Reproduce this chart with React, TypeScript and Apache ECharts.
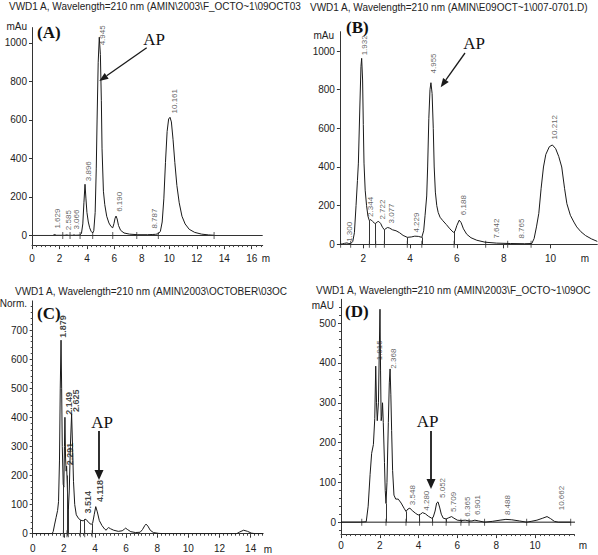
import React, { useEffect, useRef } from "react";
import * as echarts from "echarts";

// ---------------- texts ----------------
const titles = [
  "VWD1 A, Wavelength=210 nm (AMIN\\2003\\F_OCTO~1\\09OCT03",
  "VWD1 A, Wavelength=210 nm (AMIN\\E09OCT~1\\007-0701.D)",
  "VWD1 A, Wavelength=210 nm (AMIN\\2003\\OCTOBER\\03OC",
  "VWD1 A, Wavelength=210 nm (AMIN\\2003\\F_OCTO~1\\09OC",
];
const unitNames = ["mAu", "mAu", "Norm.", "mAU"];
const panelLetters = ["(A)", "(B)", "(C)", "(D)"];
const annotation = "AP";
const timeUnit = "m";

// ---------------- tick labels ----------------
const xTicksA = [0, 2, 4, 6, 8, 10, 12, 14, 16];
const yTicksA = [0, 200, 400, 600, 800, 1000];
const xTicksB = [2, 4, 6, 8, 10];
const yTicksB = [0, 200, 400, 600, 800, 1000];
const xTicksC = [0, 2, 4, 6, 8, 10, 12, 14];
const yTicksC = [0, 100, 200, 300, 400, 500, 600, 700];
const xTicksD = [0, 2, 4, 6, 8, 10];
const yTicksD = [0, 100, 200, 300, 400, 500];

// ---------------- chromatogram traces [time (min), signal] ----------------
const traceA = [
  [0, 0], [1.5, 0], [1.6, 3], [1.67, 5], [1.75, 1], [2.4, 1], [2.53, 3], [2.65, 1], [2.95, 1], [3.06, 3],
  [3.18, 1], [3.45, 2], [3.6, 10], [3.7, 60], [3.78, 170], [3.86, 266], [3.93, 190], [4.0, 120], [4.1, 70],
  [4.2, 40], [4.3, 22], [4.42, 13], [4.5, 25], [4.6, 120], [4.68, 350], [4.74, 600], [4.82, 900], [4.9, 1030],
  [4.98, 940], [5.05, 700], [5.1, 450], [5.2, 230], [5.3, 160], [5.44, 100], [5.6, 65], [5.75, 47], [5.88, 40],
  [5.97, 62], [6.05, 90], [6.12, 101], [6.2, 86], [6.3, 52], [6.45, 27], [6.7, 13], [7.1, 7], [7.7, 4],
  [8.4, 4], [8.75, 5], [9.0, 6], [9.2, 9], [9.35, 22], [9.48, 70], [9.6, 190], [9.72, 380], [9.84, 540],
  [9.95, 605], [10.05, 614], [10.15, 590], [10.27, 500], [10.4, 380], [10.55, 260], [10.72, 170], [10.92, 100],
  [11.15, 60], [11.45, 32], [11.85, 16], [12.35, 7], [12.85, 3], [13.26, 1],
];
const traceB = [
  [1.0, 0], [1.1, 2], [1.2, 5], [1.3, 7], [1.38, 4], [1.46, 3], [1.55, 15], [1.62, 60], [1.69, 200], [1.75, 330],
  [1.79, 420], [1.85, 700], [1.9, 920], [1.93, 962], [1.97, 850], [2.0, 620], [2.03, 420], [2.08, 280],
  [2.14, 200], [2.2, 145], [2.26, 122], [2.32, 128], [2.4, 118], [2.47, 110], [2.53, 108], [2.6, 116],
  [2.66, 118], [2.74, 108], [2.82, 88], [2.9, 75], [2.97, 82], [3.04, 87], [3.12, 84], [3.25, 75], [3.4, 70],
  [3.55, 60], [3.7, 46], [3.88, 36], [4.05, 38], [4.2, 42], [4.35, 41], [4.5, 36], [4.58, 70], [4.64, 150],
  [4.71, 250], [4.75, 400], [4.8, 650], [4.85, 800], [4.89, 836], [4.94, 780], [4.99, 600], [5.03, 400],
  [5.08, 270], [5.14, 200], [5.2, 165], [5.28, 140], [5.4, 122], [5.55, 102], [5.7, 80], [5.85, 62],
  [5.92, 68], [6.0, 98], [6.1, 125], [6.18, 112], [6.28, 80], [6.42, 52], [6.6, 34], [6.85, 21], [7.2, 11],
  [7.7, 6], [8.3, 4], [8.9, 3], [9.2, 4], [9.3, 30], [9.4, 90], [9.5, 160], [9.6, 290], [9.7, 400], [9.8, 465],
  [9.95, 505], [10.08, 514], [10.22, 495], [10.35, 455], [10.48, 400], [10.6, 290], [10.7, 210], [10.85, 150],
  [11.0, 115], [11.12, 90], [11.3, 65], [11.5, 45], [11.75, 28], [12.0, 15],
];
const traceC = [
  [0, 0], [1.25, 0], [1.32, 8], [1.4, 30], [1.5, 55], [1.6, 80], [1.66, 110], [1.72, 250], [1.77, 500],
  [1.82, 665], [1.86, 500], [1.9, 300], [1.96, 170], [2.0, 160], [2.04, 300], [2.07, 400], [2.11, 260],
  [2.15, 215], [2.18, 232], [2.22, 170], [2.26, 100], [2.29, 82], [2.35, 150], [2.42, 300], [2.5, 412],
  [2.56, 300], [2.62, 180], [2.7, 100], [2.8, 65], [2.95, 52], [3.1, 46], [3.25, 44], [3.36, 50], [3.45, 48],
  [3.6, 38], [3.75, 32], [3.85, 36], [3.95, 65], [4.05, 93], [4.15, 75], [4.28, 45], [4.45, 28], [4.62, 16],
  [4.72, 12], [4.8, 18], [4.88, 21], [5.0, 17], [5.2, 12], [5.5, 8], [5.75, 10], [5.9, 16], [5.97, 19],
  [6.1, 14], [6.3, 7], [6.6, 4], [6.9, 5], [7.05, 14], [7.2, 28], [7.28, 33], [7.4, 26], [7.55, 12], [7.75, 4],
  [8.1, 1], [8.6, 0], [13.1, 0], [13.3, 6], [13.55, 12], [13.8, 8], [14.05, 2], [14.3, 0], [14.8, 0],
];
const traceD = [
  [0, 0], [1.0, 0], [1.3, 1], [1.4, 40], [1.5, 120], [1.58, 173], [1.67, 195], [1.74, 260], [1.79, 392],
  [1.83, 300], [1.87, 255], [1.93, 300], [1.97, 420], [2.01, 535], [2.04, 380], [2.07, 255], [2.1, 265],
  [2.14, 300], [2.18, 250], [2.24, 150], [2.28, 80], [2.32, 47], [2.37, 100], [2.44, 250], [2.49, 350],
  [2.53, 385], [2.57, 320], [2.61, 230], [2.66, 130], [2.73, 68], [2.82, 58], [2.95, 58], [3.1, 48],
  [3.25, 35], [3.35, 27], [3.45, 33], [3.55, 35], [3.7, 28], [3.85, 22], [3.98, 18], [4.1, 20], [4.2, 24],
  [4.35, 21], [4.5, 15], [4.67, 10], [4.75, 12], [4.85, 28], [4.93, 48], [5.0, 51], [5.08, 38], [5.17, 20],
  [5.27, 10], [5.42, 8], [5.55, 11], [5.7, 14], [5.82, 10], [6.0, 5], [6.18, 4], [6.4, 5], [6.6, 3], [6.75, 3],
  [6.9, 5], [7.1, 3], [7.4, 0], [7.8, 2], [8.2, 5], [8.5, 7], [8.8, 6], [9.2, 3], [9.57, 0], [9.8, 2],
  [10.1, 5], [10.4, 10], [10.62, 14], [10.8, 9], [11.0, 2], [11.2, 0], [11.84, 0],
];
const baselineD = [[0, 0], [12.55, 0]];

// ---------------- peak labels [x, y, retention time] ----------------
const peaksA = [
  [1.84, 28, "1.629"], [2.69, 20, "2.585"], [3.25, 23, "3.066"], [4.1, 274, "3.896"],
  [5.12, 980, "4.945"], [6.36, 115, "6.190"], [8.89, 28, "8.787"], [10.36, 626, "10.161"],
];
const peaksB = [
  [1.43, 5, "1.300"], [2.07, 970, "1.932"], [2.32, 134, "2.344"], [2.81, 120, "2.722"],
  [3.21, 100, "3.077"], [4.28, 53, "4.229"], [4.99, 876, "4.955"], [6.3, 143, "6.188"],
  [7.7, 22, "7.642"], [8.77, 22, "8.765"], [10.19, 535, "10.212"],
];
const peaksC = [
  [1.97, 668, "1.879"], [2.35, 404, "2.149"], [2.4, 230, "2.291"], [2.78, 413, "2.625"],
  [3.57, 64, "3.514"], [4.32, 104, "4.118"],
];
const peaksD = [
  [2.01, 403, "1.915"], [2.73, 382, "2.368"], [3.69, 39, "3.548"], [4.42, 25, "4.280"],
  [5.24, 57, "5.052"], [5.82, 22, "5.709"], [6.53, 10, "6.365"], [7.03, 14, "6.901"],
  [8.57, 14, "8.488"], [11.38, 26, "10.662"],
];

// ---------------- integration drop lines [x, height] ----------------
const dropsA = [[2.24, 0], [2.77, 0], [3.5, 0], [4.42, 0], [5.88, 0], [7.63, 0], [9.2, 0], [13.26, 0]];
const dropsB = [
  [1.03, 0], [1.46, 3], [2.26, 122], [2.53, 108], [2.9, 75], [3.88, 36], [4.5, 36], [5.88, 64],
  [7.23, 0], [8.17, 0], [9.17, 0],
];
const dropsC = [[1.97, 165], [2.2, 200], [2.29, 82], [3.06, 47], [3.34, 50], [3.82, 34]];
const dropsD = [
  [1.07, 0], [2.32, 47], [3.35, 27], [4.05, 19], [4.72, 11], [5.42, 8], [6.18, 4], [6.6, 3],
  [7.4, 0], [9.57, 0], [11.84, 0],
];

const FONT = '"Liberation Sans", Arial, Helvetica, sans-serif';
const SERIF = '"Liberation Serif", "Times New Roman", serif';
const INK = "#1a1a1a";

function steps(a: number, b: number, s: number) {
  const r: number[] = [];
  for (let i = 0; a + i * s <= b + 1e-9; i++) r.push(+(a + i * s).toFixed(4));
  return r;
}

function arrow(x1: number, y1: number, x2: number, y2: number, L: number, W: number, lw: number) {
  const len = Math.hypot(x2 - x1, y2 - y1);
  const dx = (x2 - x1) / len, dy = (y2 - y1) / len;
  const bx = x2 - dx * L, by = y2 - dy * L;
  const nx = -dy, ny = dx;
  return [
    { type: "line", shape: { x1, y1, x2: bx, y2: by }, style: { stroke: INK, lineWidth: lw } },
    {
      type: "polygon",
      shape: { points: [[x2, y2], [bx + nx * W / 2, by + ny * W / 2], [bx - nx * W / 2, by - ny * W / 2]] },
      style: { fill: INK },
    },
  ];
}

const plain = (v: number) => String(v);

export default function App() {
  const ref = useRef<HTMLDivElement>(null);
  useEffect(() => {
    if (!ref.current) return;
    const chart = echarts.init(ref.current, undefined, { renderer: "svg" });

    const panels = [
      {
        grid: { left: 32, top: 27.6, width: 230.7, height: 217.5 },
        x: [0, 16.8], y: [-50, 1080], xt: xTicksA, yt: yTicksA,
        xm: steps(0, 16.8, 1 / 3), ym: [] as number[], xMargin: 8,
        trace: traceA, peaks: peaksA, drops: dropsA, zeroLine: true, bold: false,
      },
      {
        grid: { left: 339.9, top: 31.7, width: 257.4, height: 212.6 },
        x: [1, 12], y: [0, 1100], xt: xTicksB, yt: yTicksB,
        xm: [] as number[], ym: [] as number[], xMargin: 9,
        trace: traceB, peaks: peaksB, drops: dropsB, zeroLine: false, bold: false,
      },
      {
        grid: { left: 32.7, top: 300.9, width: 230.4, height: 232.8 },
        x: [0, 14.8], y: [0, 800], xt: xTicksC, yt: yTicksC,
        xm: steps(0, 14.75, 0.25), ym: steps(0, 780, 20), xMargin: 10,
        trace: traceC, peaks: peaksC, drops: dropsC, zeroLine: false, bold: true,
      },
      {
        grid: { left: 341, top: 299.3, width: 232.8, height: 234.8 },
        x: [0, 12], y: [-30, 560], xt: xTicksD, yt: yTicksD,
        xm: steps(0, 12, 0.25), ym: steps(-20, 540, 20), xMargin: 6,
        trace: traceD, peaks: peaksD, drops: dropsD, zeroLine: false, bold: false,
      },
    ];

    const xAxis: any[] = [];
    const yAxis: any[] = [];
    const series: any[] = [];
    panels.forEach((p, i) => {
      xAxis.push({
        type: "value", gridIndex: i, position: "bottom", min: p.x[0], max: p.x[1],
        axisLine: { show: true, onZero: false, lineStyle: { color: "#333", width: 1 } },
        axisTick: { show: true, customValues: p.xt, length: 4, lineStyle: { color: "#333" } },
        axisLabel: { show: true, customValues: p.xt, formatter: plain, margin: p.xMargin, fontSize: 10, color: "#222", fontFamily: FONT },
        splitLine: { show: false },
      });
      xAxis.push({
        type: "value", gridIndex: i, position: "bottom", min: p.x[0], max: p.x[1],
        axisLine: { show: false, onZero: false },
        axisTick: { show: p.xm.length > 0, customValues: p.xm.length ? p.xm : [p.x[0]], length: 2, lineStyle: { color: "#444" } },
        axisLabel: { show: false },
        splitLine: { show: false },
      });
      yAxis.push({
        type: "value", gridIndex: i, position: "left", min: p.y[0], max: p.y[1],
        axisLine: { show: true, onZero: false, lineStyle: { color: "#333", width: 1 } },
        axisTick: { show: true, customValues: p.yt, length: 3, lineStyle: { color: "#333" } },
        axisLabel: { show: true, customValues: p.yt, formatter: plain, margin: 5, fontSize: 10, color: "#222", fontFamily: FONT },
        splitLine: { show: false },
      });
      yAxis.push({
        type: "value", gridIndex: i, position: "left", min: p.y[0], max: p.y[1],
        axisLine: { show: false, onZero: false },
        axisTick: { show: p.ym.length > 0, customValues: p.ym.length ? p.ym : [p.y[0]], length: 2, lineStyle: { color: "#444" } },
        axisLabel: { show: false },
        splitLine: { show: false },
      });

      const mlData: any[] = p.drops
        .filter((d) => d[1] > 0)
        .map((d) => [{ coord: [d[0], 0] }, { coord: [d[0], d[1]] }]);
      if (p.zeroLine) mlData.push({ yAxis: 0 });

      series.push({
        type: "line", xAxisIndex: 2 * i, yAxisIndex: 2 * i, data: p.trace,
        showSymbol: false, symbol: "none", silent: true,
        lineStyle: { color: INK, width: 1 },
        markLine: {
          silent: true, symbol: ["none", "none"], label: { show: false },
          lineStyle: { color: "#333", width: 1, type: "solid" }, data: mlData,
        },
      });
      series.push({
        type: "scatter", xAxisIndex: 2 * i, yAxisIndex: 2 * i, silent: true,
        symbol: "rect", symbolSize: [1, 7], itemStyle: { color: "#333" },
        data: p.drops.map((d) => [d[0], 0]),
      });
      series.push({
        type: "scatter", xAxisIndex: 2 * i, yAxisIndex: 2 * i, silent: true,
        symbolSize: 1, itemStyle: { color: "transparent" },
        data: p.peaks.map((d) => ({ value: [d[0], d[1]], name: d[2] })),
        label: {
          show: true, formatter: "{b}", position: "top", distance: 1, rotate: 90,
          align: "left", verticalAlign: "middle",
          fontSize: p.bold ? 9 : 8, fontWeight: p.bold ? "bold" : "normal",
          color: p.bold ? "#111" : "#3a3a3a", fontFamily: FONT,
        },
      });
    });
    series.push({
      type: "line", xAxisIndex: 6, yAxisIndex: 6, data: baselineD, clip: false,
      showSymbol: false, symbol: "none", silent: true, lineStyle: { color: INK, width: 1 },
    });

    const titlePos = [[9, 6], [310, 7], [15, 291], [316, 290]];
    const unitPos = [[27, 26], [334, 35], [27, 303], [334, 305]];
    const letterPos = [[37, 32], [346, 27], [37, 313], [345, 311]];
    const apPos = [[154, 39], [474, 43], [102, 422], [427.5, 421]];
    const mPos = [[266, 258], [585, 258], [268, 549], [583, 545]];

    const graphic: any[] = [];
    titles.forEach((t, i) => {
      graphic.push({
        type: "text", x: titlePos[i][0], y: titlePos[i][1],
        style: { text: t, font: `10px ${FONT}`, fill: "#222", align: "left", verticalAlign: "middle" },
      });
      graphic.push({
        type: "text", x: unitPos[i][0], y: unitPos[i][1],
        style: { text: unitNames[i], font: `10px ${FONT}`, fill: "#222", align: "right", verticalAlign: "middle" },
      });
      graphic.push({
        type: "text", x: letterPos[i][0], y: letterPos[i][1],
        style: { text: panelLetters[i], font: `bold 17px ${SERIF}`, fill: "#111", align: "left", verticalAlign: "middle" },
      });
      graphic.push({
        type: "text", x: apPos[i][0], y: apPos[i][1],
        style: { text: annotation, font: `17px ${SERIF}`, fill: "#111", align: "center", verticalAlign: "middle" },
      });
      graphic.push({
        type: "text", x: mPos[i][0], y: mPos[i][1],
        style: { text: timeUnit, font: `10px ${FONT}`, fill: "#222", align: "center", verticalAlign: "middle" },
      });
    });
    graphic.push(...arrow(146.7, 47.7, 99.3, 81, 9, 7, 1.3));
    graphic.push(...arrow(465, 53, 440.7, 87.3, 9, 7, 1.3));
    graphic.push(...arrow(99, 431, 99, 480, 10, 9, 1.8));
    graphic.push(...arrow(431, 431, 431, 489, 10, 9, 1.8));

    chart.setOption({
      animation: false,
      backgroundColor: "#fff",
      grid: panels.map((p) => ({ ...p.grid, containLabel: false })),
      xAxis,
      yAxis,
      series,
      graphic,
    });
    return () => chart.dispose();
  }, []);
  return <div ref={ref} style={{ position: "fixed", left: 0, top: 0, width: 598, height: 555 }} />;
}
